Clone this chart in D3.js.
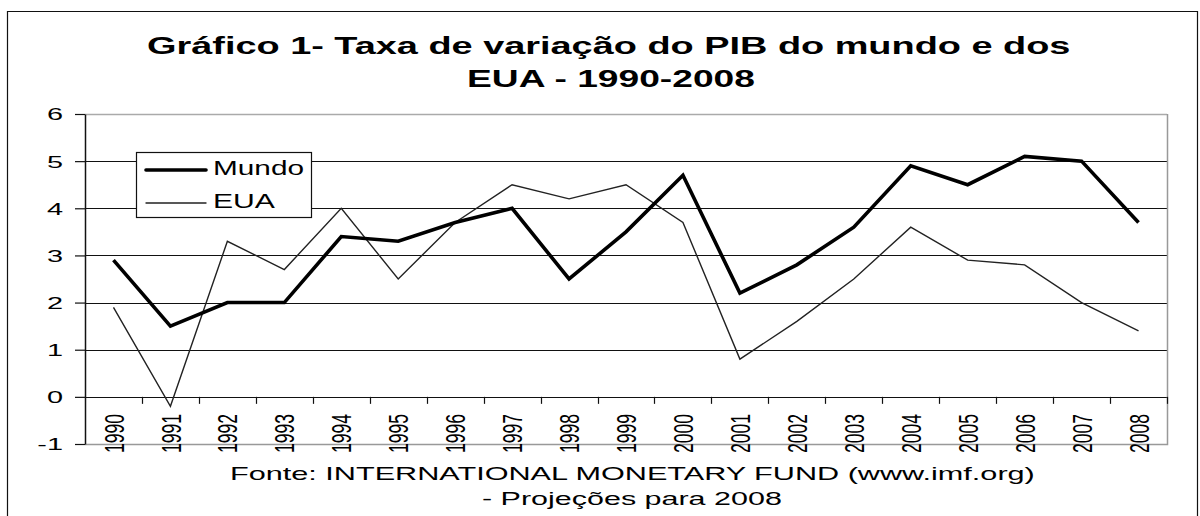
<!DOCTYPE html>
<html>
<head>
<meta charset="utf-8">
<script src="https://cdn.jsdelivr.net/npm/d3@7"></script>
<style>
  body { margin: 0; background: #fff; }
  svg { display: block; font-family: "Liberation Sans", Arial, sans-serif; }
</style>
</head>
<body>
<script>
// chart data
const years = ["1990","1991","1992","1993","1994","1995","1996","1997","1998","1999",
               "2000","2001","2002","2003","2004","2005","2006","2007","2008"];
const mundo = [2.9, 1.5, 2.0, 2.0, 3.4, 3.3, 3.7, 4.0, 2.5, 3.5, 4.7, 2.2, 2.8, 3.6, 4.9, 4.5, 5.1, 5.0, 3.7];
const eua   = [1.9, -0.2, 3.3, 2.7, 4.0, 2.5, 3.7, 4.5, 4.2, 4.5, 3.7, 0.8, 1.6, 2.5, 3.6, 2.9, 2.8, 2.0, 1.4];
const yTicks = [-1, 0, 1, 2, 3, 4, 5, 6];

const width = 1200;
const height = 516;
const plot = { left: 85, right: 1167, top: 114, bottom: 444 };

const svg = d3.select("body").append("svg")
  .attr("width", width)
  .attr("height", height);

// the original picture is stretched sideways: scale each text to its width
function stretchedText(x, y, str, size, len, opts = {}) {
  const t = svg.append("text")
    .attr("font-size", size)
    .attr("font-weight", opts.bold ? "bold" : null)
    .attr("fill", "#000")
    .text(str);
  const w = t.node().getComputedTextLength();
  t.attr("transform", `translate(${x},${y}) scale(${len / w},1)`);
  return t;
}

// outer frame (left, top, right)
svg.append("path")
  .attr("d", `M7.5,516 V11.5 H1197.5 V516`)
  .attr("fill", "none")
  .attr("stroke", "#111")
  .attr("stroke-width", 1.2);

// title
stretchedText(147, 54, "Gráfico 1- Taxa de variação do PIB do mundo e dos", 23.5, 924, { bold: true });
stretchedText(467, 87, "EUA - 1990-2008", 23.5, 288, { bold: true });

// scales
const x = d3.scaleBand()
  .domain(years)
  .range([plot.left, plot.right]);

const y = d3.scaleLinear()
  .domain([-1, 6])
  .range([plot.bottom, plot.top]);

// gridlines
svg.append("g")
  .selectAll("line")
  .data(yTicks.filter(d => d > -1))
  .join("line")
  .attr("x1", plot.left)
  .attr("x2", plot.right)
  .attr("y1", d => Math.round(y(d)) + 0.5)
  .attr("y2", d => Math.round(y(d)) + 0.5)
  .attr("stroke", d => d === 6 ? "#aaa" : "#111")
  .attr("stroke-width", d => d === 6 ? 1.5 : 1.2);

// plot border right & bottom (gray)
svg.append("path")
  .attr("d", `M${plot.right + 0.5},${plot.top} V${Math.round(y(-1)) + 0.5} H${plot.left}`)
  .attr("fill", "none")
  .attr("stroke", "#999")
  .attr("stroke-width", 1.5);

// y axis
const yAxis = svg.append("g")
  .attr("transform", `translate(${plot.left},0)`)
  .call(d3.axisLeft(y).tickValues(yTicks).tickSize(10).tickSizeOuter(0)
    .tickFormat(d => String(d)));
yAxis.select(".domain").attr("stroke", "#111").attr("stroke-width", 1.5);
yAxis.selectAll(".tick line").attr("stroke", "#111").attr("stroke-width", 1.2);
yAxis.selectAll(".tick text")
  .attr("font-size", 16.5)
  .attr("font-family", "Liberation Sans, Arial, sans-serif")
  .attr("fill", "#000")
  .attr("text-anchor", "end")
  .attr("x", 0)
  .attr("dy", "0.36em")
  .attr("transform", "translate(-22,0) scale(1.75,1)");

// x axis on the zero line
const xAxis = svg.append("g")
  .attr("transform", `translate(0,${Math.round(y(0)) + 0.5})`)
  .call(d3.axisBottom(x).tickSize(0).tickSizeOuter(0));
xAxis.select(".domain").remove();
xAxis.selectAll(".tick text")
  .attr("font-size", 17.5)
  .attr("font-family", "Liberation Sans, Arial, sans-serif")
  .attr("fill", "#000")
  .attr("text-anchor", "end")
  .attr("dy", "0.36em")
  .attr("transform", "translate(0,16.5) scale(1.6,1) rotate(-90)")
  .attr("x", 0)
  .attr("y", 0);

// category separator ticks
svg.append("g")
  .selectAll("line")
  .data(years)
  .join("line")
  .attr("x1", d => Math.round(x(d) + x.step()) + 0.5)
  .attr("x2", d => Math.round(x(d) + x.step()) + 0.5)
  .attr("y1", y(0))
  .attr("y2", y(0) + 7)
  .attr("stroke", "#111")
  .attr("stroke-width", 1.2);

// lines
const line = d3.line()
  .x((d, i) => x(years[i]) + x.bandwidth() / 2)
  .y(d => y(d));

svg.append("path")
  .datum(eua)
  .attr("d", line)
  .attr("fill", "none")
  .attr("stroke", "#222")
  .attr("stroke-width", 1.4);

svg.append("path")
  .datum(mundo)
  .attr("d", line)
  .attr("fill", "none")
  .attr("stroke", "#000")
  .attr("stroke-width", 3.6)
  .attr("stroke-linejoin", "miter");

// legend
svg.append("rect")
  .attr("x", 136.5).attr("y", 152.5)
  .attr("width", 175).attr("height", 65)
  .attr("fill", "#fff")
  .attr("stroke", "#111")
  .attr("stroke-width", 1.2);

const legendItems = [
  { name: "Mundo", w: 3.6, c: "#000", yy: 170, len: 91 },
  { name: "EUA", w: 1.4, c: "#222", yy: 203, len: 62 }
];
legendItems.forEach(it => {
  svg.append("line")
    .attr("x1", 146).attr("x2", 206)
    .attr("y1", it.yy).attr("y2", it.yy)
    .attr("stroke", it.c)
    .attr("stroke-width", it.w)
    .attr("stroke-linecap", "round");
  stretchedText(213, it.yy + 4.5, it.name, 20.5, it.len);
});

// source
stretchedText(230, 480, "Fonte: INTERNATIONAL MONETARY FUND (www.imf.org)", 18.5, 805);
stretchedText(482, 505, "- Projeções para 2008", 18.5, 300);
</script>
</body>
</html>
